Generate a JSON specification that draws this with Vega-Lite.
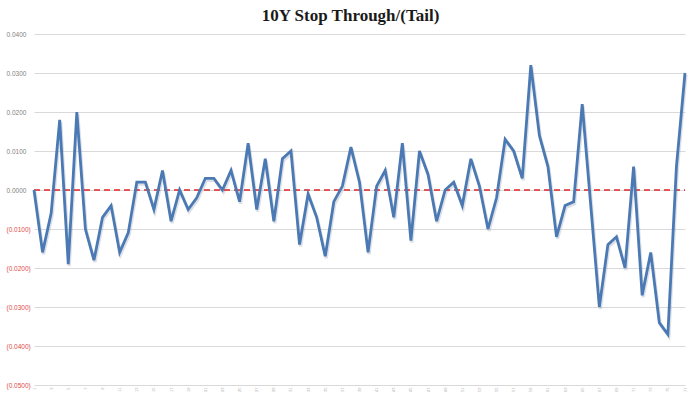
{
  "$schema": "https://vega.github.io/schema/vega-lite/v6.json",
  "width": 651,
  "height": 351,
  "autosize": {"type": "none"},
  "padding": {"left": 34, "top": 34, "right": 15, "bottom": 9},
  "background": "white",
  "title": {
    "text": "10Y Stop Through/(Tail)",
    "font": "Liberation Serif",
    "fontSize": 17,
    "fontWeight": "bold",
    "color": "#1a1a1a",
    "anchor": "middle",
    "offset": 6,
    "dx": -9
  },
  "config": {"view": {"stroke": null}},
  "data": {
    "values": [
      {"n": 1, "v": 0.0}, {"n": 2, "v": -0.016}, {"n": 3, "v": -0.006}, {"n": 4, "v": 0.018},
      {"n": 5, "v": -0.019}, {"n": 6, "v": 0.020}, {"n": 7, "v": -0.010}, {"n": 8, "v": -0.018},
      {"n": 9, "v": -0.007}, {"n": 10, "v": -0.004}, {"n": 11, "v": -0.016}, {"n": 12, "v": -0.011},
      {"n": 13, "v": 0.002}, {"n": 14, "v": 0.002}, {"n": 15, "v": -0.005}, {"n": 16, "v": 0.005},
      {"n": 17, "v": -0.008}, {"n": 18, "v": 0.0}, {"n": 19, "v": -0.005}, {"n": 20, "v": -0.002},
      {"n": 21, "v": 0.003}, {"n": 22, "v": 0.003}, {"n": 23, "v": 0.0}, {"n": 24, "v": 0.005},
      {"n": 25, "v": -0.003}, {"n": 26, "v": 0.012}, {"n": 27, "v": -0.005}, {"n": 28, "v": 0.008},
      {"n": 29, "v": -0.008}, {"n": 30, "v": 0.008}, {"n": 31, "v": 0.010}, {"n": 32, "v": -0.014},
      {"n": 33, "v": -0.001}, {"n": 34, "v": -0.007}, {"n": 35, "v": -0.017}, {"n": 36, "v": -0.003},
      {"n": 37, "v": 0.001}, {"n": 38, "v": 0.011}, {"n": 39, "v": 0.002}, {"n": 40, "v": -0.016},
      {"n": 41, "v": 0.001}, {"n": 42, "v": 0.005}, {"n": 43, "v": -0.007}, {"n": 44, "v": 0.012},
      {"n": 45, "v": -0.013}, {"n": 46, "v": 0.010}, {"n": 47, "v": 0.004}, {"n": 48, "v": -0.008},
      {"n": 49, "v": 0.0}, {"n": 50, "v": 0.002}, {"n": 51, "v": -0.004}, {"n": 52, "v": 0.008},
      {"n": 53, "v": 0.001}, {"n": 54, "v": -0.010}, {"n": 55, "v": -0.002}, {"n": 56, "v": 0.013},
      {"n": 57, "v": 0.010}, {"n": 58, "v": 0.003}, {"n": 59, "v": 0.032}, {"n": 60, "v": 0.014},
      {"n": 61, "v": 0.006}, {"n": 62, "v": -0.012}, {"n": 63, "v": -0.004}, {"n": 64, "v": -0.003},
      {"n": 65, "v": 0.022}, {"n": 66, "v": -0.004}, {"n": 67, "v": -0.030}, {"n": 68, "v": -0.014},
      {"n": 69, "v": -0.012}, {"n": 70, "v": -0.020}, {"n": 71, "v": 0.006}, {"n": 72, "v": -0.027},
      {"n": 73, "v": -0.016}, {"n": 74, "v": -0.034}, {"n": 75, "v": -0.037}, {"n": 76, "v": 0.006},
      {"n": 77, "v": 0.030}
    ]
  },
  "encoding": {
    "x": {"field": "n", "type": "quantitative", "scale": {"domain": [1, 77], "nice": false, "zero": false},
      "axis": {
        "values": [1,3,5,7,9,11,13,15,17,19,21,23,25,27,29,31,33,35,37,39,41,43,45,47,49,51,53,55,57,59,61,63,65,67,69,71,73,75,77],
        "grid": false, "domain": false, "ticks": false,
        "labelFontSize": 4, "labelColor": "#aaaaaa", "labelAngle": -90, "labelPadding": 2,
        "labelOverlap": false, "labelBound": false, "labelFlush": false,
        "labelFont": "Liberation Sans", "title": null
      }},
    "y": {"field": "v", "type": "quantitative", "scale": {"domain": [-0.05, 0.04], "nice": false, "zero": false},
      "axis": {
        "values": [-0.05, -0.04, -0.03, -0.02, -0.01, 0, 0.01, 0.02, 0.03, 0.04],
        "labelExpr": "datum.value < 0 ? '(' + format(-datum.value, '.4f') + ')' : format(datum.value, '.4f')",
        "labelColor": {"condition": {"test": "datum.value < 0", "value": "#dd4b4b"}, "value": "#7f7f7f"},
        "labelFontSize": 6.5, "labelFont": "Liberation Sans",
        "labelOverlap": false, "labelBound": false, "labelFlush": false,
        "labelAlign": "left", "labelPadding": 28, "ticks": false, "domain": false,
        "gridColor": "#d9d9d9", "gridWidth": 1, "title": null
      }}
  },
  "layer": [
    {
      "mark": {"type": "line", "color": "#9aa7b8", "strokeWidth": 3.2, "opacity": 0.35, "yOffset": 2, "xOffset": 1}
    },
    {
      "mark": {"type": "line", "color": "#e0262a", "strokeWidth": 1.6, "strokeDash": [6, 4]},
      "encoding": {"y": {"datum": 0}}
    },
    {
      "mark": {"type": "line", "color": "#4a79b3", "strokeWidth": 2.8}
    }
  ]
}
